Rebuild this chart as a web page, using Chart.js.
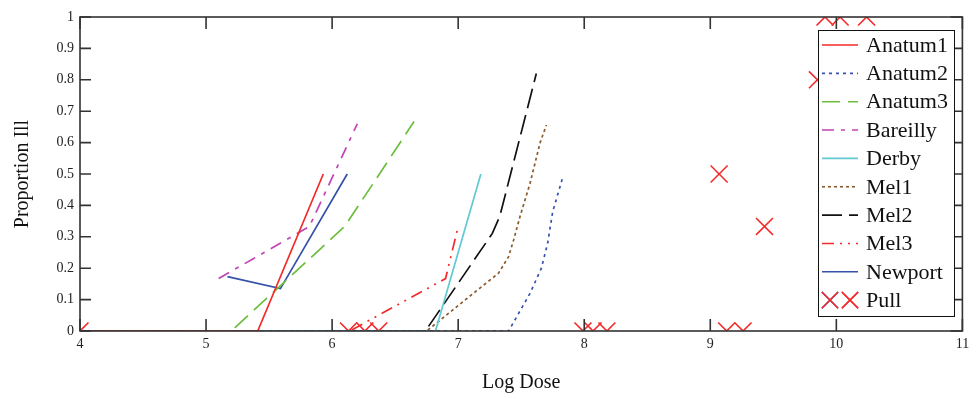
<!DOCTYPE html>
<html lang="en">
<head>
  <meta charset="UTF-8" />
  <title>Proportion Ill vs Log Dose</title>
  <style>
    body {
      margin: 0;
      background: #ffffff;
    }
    canvas {
      display: block;
    }
  </style>
</head>
<body>
  <canvas id="doseChart" width="976" height="399"></canvas>

  <script src="https://cdn.jsdelivr.net/npm/chart.js"></script>
  <script>
// axis ticks
const xTicks = [4, 5, 6, 7, 8, 9, 10, 11];
const yTicks = [0, 0.1, 0.2, 0.3, 0.4, 0.5, 0.6, 0.7, 0.8, 0.9, 1];

// series values (x = log dose, y = proportion ill)
const anatum1X = [4, 5.41, 5.93];
const anatum1Y = [0, 0, 0.5];
const anatum2X = [4, 7.4, 7.57, 7.66, 7.71, 7.75, 7.83];
const anatum2Y = [0, 0, 0.12, 0.2, 0.28, 0.38, 0.49];
const anatum3X = [4, 5.2, 6.1, 6.65];
const anatum3Y = [0, 0, 0.333, 0.667];
const bareillyX = [5.1, 5.82, 6.2];
const bareillyY = [0.167, 0.333, 0.66];
const derbyX = [5.1, 6.82, 7.18];
const derbyY = [0, 0, 0.5];
const mel1X = [4, 6.75, 7.17, 7.32, 7.4, 7.44, 7.49, 7.57, 7.65, 7.7];
const mel1Y = [0, 0, 0.136, 0.184, 0.237, 0.29, 0.364, 0.47, 0.6, 0.656];
const mel2X = [4, 6.74, 7.27, 7.33, 7.62];
const mel2Y = [0, 0, 0.31, 0.365, 0.82];
const mel3X = [4, 6.14, 6.9, 7.0];
const mel3Y = [0, 0, 0.167, 0.333];
const newportX = [5.17, 5.59, 6.12];
const newportY = [0.173, 0.135, 0.5];
const pullX = [4, 6.13, 6.26, 6.37, 7.99, 8.07, 8.18, 9.07, 9.13, 9.26, 9.43, 9.85, 9.91, 10.03, 10.24];
const pullY = [0, 0, 0, 0, 0, 0, 0, 0.5, 0, 0, 0.333, 0.8, 1, 1, 1];

const pts = (xs, ys) => xs.map((x, i) => ({ x: x, y: ys[i] }));

function line(label, xs, ys, color, dash) {
  return {
    label: label,
    data: pts(xs, ys),
    showLine: true,
    borderColor: color,
    backgroundColor: color,
    borderWidth: 1.7,
    borderDash: dash,
    pointRadius: 0,
    tension: 0
  };
}

const datasets = [
  line("Anatum1", anatum1X, anatum1Y, "#f42a2a", []),
  line("Anatum2", anatum2X, anatum2Y, "#3552b0", [3, 4]),
  line("Anatum3", anatum3X, anatum3Y, "#6cbf3c", [18, 8]),
  line("Bareilly", bareillyX, bareillyY, "#c044b4", [12, 7, 4, 7]),
  line("Derby", derbyX, derbyY, "#62c8d2", []),
  line("Mel1", mel1X, mel1Y, "#8a5a2e", [3, 3]),
  line("Mel2", mel2X, mel2Y, "#111111", [20, 7]),
  line("Mel3", mel3X, mel3Y, "#f42a2a", [12, 6, 2, 6, 2, 6]),
  line("Newport", newportX, newportY, "#3552a8", []),
  {
    label: "Pull",
    data: pts(pullX, pullY),
    showLine: false,
    pointStyle: "crossRot",
    pointRadius: 12,
    pointBorderWidth: 1.6,
    pointBorderColor: "#f42a2a",
    borderColor: "#f42a2a",
    backgroundColor: "#f42a2a",
    borderWidth: 1.6
  }
];

const serif = "'Liberation Serif', 'Times New Roman', serif";

// frame with inward tick marks on all four sides
const frameTicks = {
  id: "frameTicks",
  afterDatasetsDraw(chart) {
    const { ctx, chartArea: a, scales: { x, y } } = chart;
    ctx.save();
    ctx.strokeStyle = "#333";
    ctx.lineWidth = 1.6;
    ctx.strokeRect(a.left, a.top, a.right - a.left, a.bottom - a.top);
    ctx.beginPath();
    xTicks.forEach(v => {
      const px = x.getPixelForValue(v);
      ctx.moveTo(px, a.bottom); ctx.lineTo(px, a.bottom - 12);
      ctx.moveTo(px, a.top); ctx.lineTo(px, a.top + 12);
    });
    yTicks.forEach(v => {
      const py = y.getPixelForValue(v);
      ctx.moveTo(a.left, py); ctx.lineTo(a.left + 11, py);
      ctx.moveTo(a.right, py); ctx.lineTo(a.right - 12, py);
    });
    ctx.stroke();
    ctx.restore();
  }
};

// boxed legend inside the plot, top right
const boxLegend = {
  id: "boxLegend",
  afterDraw(chart) {
    const ctx = chart.ctx;
    const left = 818, top = 30, right = 954, bottom = 316;
    const rowY = 45, rowStep = 28.35;
    ctx.save();
    ctx.fillStyle = "#fff";
    ctx.fillRect(left, top, right - left, bottom - top);
    ctx.strokeStyle = "#111";
    ctx.lineWidth = 1;
    ctx.strokeRect(left + 0.5, top + 0.5, right - left, bottom - top);
    ctx.font = "22px " + serif;
    ctx.textBaseline = "middle";
    chart.data.datasets.forEach((ds, i) => {
      const yy = rowY + i * rowStep;
      if (ds.showLine === false) {
        [830, 850].forEach(cx => {
          Chart.helpers.drawPoint(ctx, { pointStyle: "crossRot", radius: 11.5, borderWidth: 1.6 }, cx, yy);
          ctx.strokeStyle = ds.pointBorderColor;
          ctx.lineWidth = 1.6;
          ctx.stroke();
        });
      } else {
        ctx.strokeStyle = ds.borderColor;
        ctx.lineWidth = 1.6;
        ctx.setLineDash(ds.borderDash || []);
        ctx.beginPath();
        ctx.moveTo(822, yy);
        ctx.lineTo(858, yy);
        ctx.stroke();
        ctx.setLineDash([]);
      }
      ctx.fillStyle = "#111";
      ctx.fillText(ds.label, 866, yy + 1);
    });
    ctx.restore();
  }
};

new Chart(document.getElementById("doseChart"), {
  type: "scatter",
  data: { datasets: datasets },
  options: {
    responsive: false,
    animation: false,
    layout: { padding: { top: 17, right: 13, left: 0, bottom: 0 } },
    plugins: {
      legend: { display: false },
      tooltip: { enabled: false }
    },
    scales: {
      x: {
        type: "linear",
        min: 4,
        max: 11,
        afterBuildTicks: s => { s.ticks = xTicks.map(v => ({ value: v })); },
        afterFit: s => { s.height = 68; },
        grid: { display: false, drawTicks: false },
        border: { display: false },
        ticks: {
          padding: 5,
          color: "#222",
          font: { family: serif, size: 14 },
          callback: v => String(v)
        },
        title: {
          display: true,
          text: "Log Dose",
          color: "#111",
          font: { family: serif, size: 20 },
          padding: { top: 0, bottom: 4 }
        }
      },
      y: {
        type: "linear",
        min: 0,
        max: 1,
        afterBuildTicks: s => { s.ticks = yTicks.map(v => ({ value: v })); },
        afterFit: s => { s.width = 80; },
        grid: { display: false, drawTicks: false },
        border: { display: false },
        ticks: {
          padding: 6,
          color: "#222",
          font: { family: serif, size: 14 },
          callback: v => String(Math.round(v * 10) / 10)
        },
        title: {
          display: true,
          text: "Proportion Ill",
          color: "#111",
          font: { family: serif, size: 20 },
          padding: { top: 11, bottom: 0 }
        }
      }
    }
  },
  plugins: [frameTicks, boxLegend]
});
  </script>
</body>
</html>
